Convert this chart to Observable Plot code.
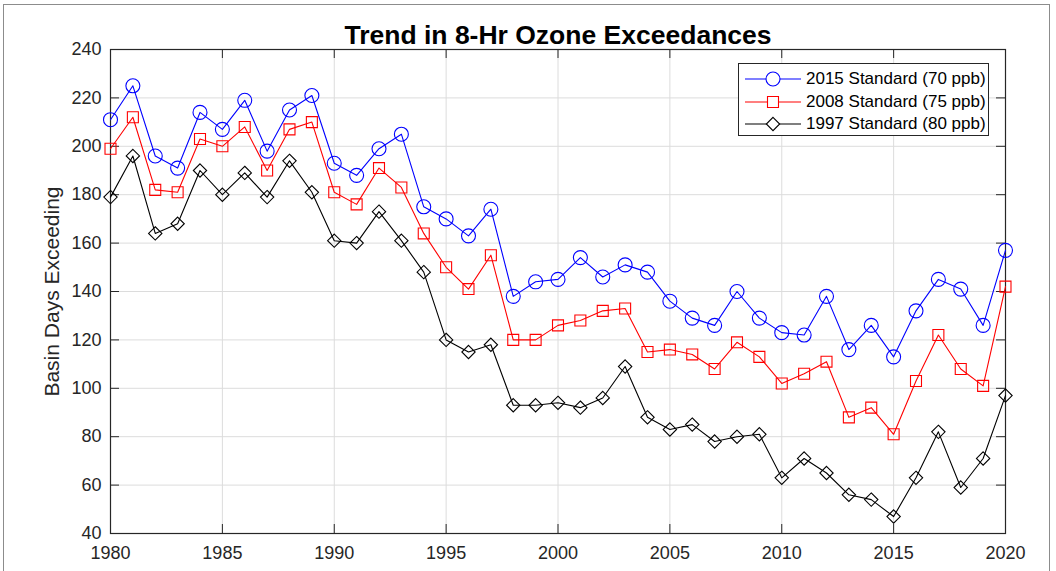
<!DOCTYPE html>
<html>
<head>
<meta charset="utf-8">
<script src="https://cdn.jsdelivr.net/npm/d3@7"></script>
<script src="https://cdn.jsdelivr.net/npm/@observablehq/plot@0.6"></script>
<style>
  html, body { margin: 0; padding: 0; background: #fff; }
  #wrap { position: relative; width: 1056px; height: 571px; overflow: hidden; font-family: "Liberation Sans", Arial, sans-serif; }
  #border { position: absolute; left: 3px; top: 4px; width: 1045px; height: 640px; border: 1px solid #8c8c8c; border-bottom: none; }
  #legend { position: absolute; left: 738px; top: 63px; width: 251px; height: 73px; background: #fff; border: 1px solid #262626; box-sizing: border-box; }
  #legend .row { position: absolute; left: 0; height: 22px; display: flex; align-items: center; font-size: 17px; color: #000; }
  #legend svg { display: block; }
  #chart svg { position: absolute; left: 0; top: 0; }
</style>
</head>
<body>
<div id="wrap">
  <div id="border"></div>
  <div id="chart"></div>
  <div id="legend"></div>
</div>
<script>
const years = d3.range(1980, 2021);
const std2015 = [211,225,196,191,214,207,219,198,215,221,193,188,199,205,175,170,163,174,138,144,145,154,146,151,148,136,129,126,140,129,123,122,138,116,126,113,132,145,141,126,157];
const std2008 = [199,212,182,181,203,200,208,190,207,210,181,176,191,183,164,150,141,155,120,120,126,128,132,133,115,116,114,108,119,113,102,106,111,88,92,81,103,122,108,101,142];
const std1997 = [179,196,164,168,190,180,189,179,194,181,161,160,173,161,148,120,115,118,93,93,94,92,96,109,88,83,85,78,80,81,63,71,65,56,54,47,63,82,59,71,97];
const seriesNames = ["2015 Standard (70 ppb)", "2008 Standard (75 ppb)", "1997 Standard (80 ppb)"];
const seriesColors = ["#0000ff", "#ff0000", "#000000"];
const seriesSymbols = ["circle", "square", "diamond2"];
const seriesR = [7, 6.2, 6];
const xTicks = [1980,1985,1990,1995,2000,2005,2010,2015,2020];
const yTicks = [40,60,80,100,120,140,160,180,200,220,240];
const title = "Trend in 8-Hr Ozone Exceedances";
const yLabel = "Basin Days Exceeding";

const seriesValues = [std2015, std2008, std1997];
const rows = [];
seriesValues.forEach((vals, i) => vals.forEach((v, j) => rows.push({year: years[j], value: v, series: i})));

const W = 1056, H = 571, mL = 110, mR = 51, mT = 49, mB = 38;
const pw = W - mL - mR, ph = H - mT - mB;
const tick = 9;
const font = "Liberation Sans, Arial, sans-serif";

const marks = [
  Plot.gridX(xTicks, {stroke: "#dcdcdc", strokeOpacity: 1}),
  Plot.gridY(yTicks, {stroke: "#dcdcdc", strokeOpacity: 1}),
  Plot.ruleX(xTicks, {x: d => d, insetTop: ph - tick, stroke: "#262626"}),
  Plot.ruleX(xTicks, {x: d => d, insetBottom: ph - tick, stroke: "#262626"}),
  Plot.ruleY(yTicks, {y: d => d, insetRight: pw - tick, stroke: "#262626"}),
  Plot.ruleY(yTicks, {y: d => d, insetLeft: pw - tick, stroke: "#262626"}),
  Plot.frame({stroke: "#262626", strokeWidth: 1.2}),
  Plot.axisX({ticks: xTicks, tickFormat: d => String(d), tickSize: 0, tickPadding: 13, fontSize: 18, label: null, color: "#262626"}),
  Plot.axisY({ticks: yTicks, tickSize: 0, tickPadding: 9, fontSize: 18, label: null, color: "#262626"}),
  Plot.text([yLabel], {frameAnchor: "left", textAnchor: "middle", dx: -58, rotate: -90, fontSize: 21, fill: "#262626"}),
  Plot.text([title], {frameAnchor: "top", dy: -24, fontSize: 26.5, fontWeight: "bold", fill: "#000"})
];
seriesValues.forEach((vals, i) => {
  const d = rows.filter(r => r.series === i);
  marks.push(Plot.line(d, {x: "year", y: "value", stroke: seriesColors[i], strokeWidth: 1.1}));
  marks.push(Plot.dot(d, {x: "year", y: "value", stroke: seriesColors[i], fill: "none", symbol: seriesSymbols[i], r: seriesR[i], strokeWidth: 1.1}));
});

const chart = Plot.plot({
  width: W, height: H,
  marginLeft: mL, marginRight: mR, marginTop: mT, marginBottom: mB,
  style: {fontFamily: font, background: "transparent", overflow: "visible"},
  x: {domain: [1980, 2020]},
  y: {domain: [40, 240]},
  marks
});
document.getElementById("chart").appendChild(chart);

// legend
const legend = document.getElementById("legend");
const symbolGen = {circle: d3.symbolCircle, square: d3.symbolSquare, diamond2: d3.symbolDiamond2};
seriesNames.forEach((name, i) => {
  const row = document.createElement("div");
  row.className = "row";
  row.style.top = (4 + i * 22.5) + "px";
  const svg = d3.create("svg").attr("width", 64).attr("height", 22);
  svg.append("line").attr("x1", 6).attr("x2", 62).attr("y1", 11).attr("y2", 11).attr("stroke", seriesColors[i]).attr("stroke-width", 1.1);
  const area = Math.PI * seriesR[i] * seriesR[i];
  svg.append("path").attr("d", d3.symbol(symbolGen[seriesSymbols[i]], area)()).attr("transform", "translate(34,11)")
     .attr("fill", "#fff").attr("stroke", seriesColors[i]).attr("stroke-width", 1.1);
  row.appendChild(svg.node());
  const span = document.createElement("span");
  span.textContent = name;
  span.style.marginLeft = "3px";
  row.appendChild(span);
  legend.appendChild(row);
});
</script>
</body>
</html>
